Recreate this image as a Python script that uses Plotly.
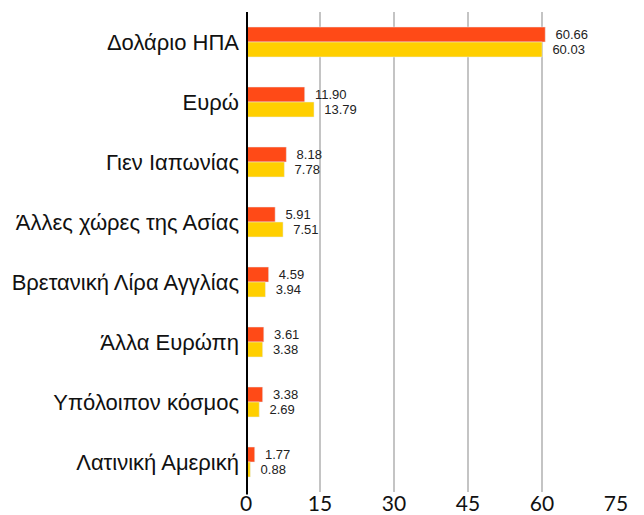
import plotly.graph_objects as go

categories = ["Δολάριο ΗΠΑ", "Ευρώ", "Γιεν Ιαπωνίας", "Άλλες χώρες της Ασίας",
              "Βρετανική Λίρα Αγγλίας", "Άλλα Ευρώπη", "Υπόλοιπον κόσμος", "Λατινική Αμερική"]
series_a = [60.66, 11.90, 8.18, 5.91, 4.59, 3.61, 3.38, 1.77]
series_b = [60.03, 13.79, 7.78, 7.51, 3.94, 3.38, 2.69, 0.88]
tick_vals = [0, 15, 30, 45, 60, 75]

lab_font = dict(size=13, color="#222", family="Liberation Sans")

fig = go.Figure()
fig.add_trace(go.Bar(y=categories, x=series_a, orientation="h", marker_color="#FF4A17",
                     texttemplate="  %{x:.2f}", textposition="outside", constraintext="none",
                     textfont=lab_font, cliponaxis=False, showlegend=False))
fig.add_trace(go.Bar(y=categories, x=series_b, orientation="h", marker_color="#FFCF00",
                     texttemplate="  %{x:.2f}", textposition="outside", constraintext="none",
                     textfont=lab_font, cliponaxis=False, showlegend=False))

fig.update_layout(
    width=636, height=507,
    margin=dict(l=238, r=28, t=4, b=23),
    plot_bgcolor="white", paper_bgcolor="white",
    barmode="group", bargap=0.5, bargroupgap=0,
    xaxis=dict(range=[0, 75], tickvals=tick_vals, showgrid=True, gridcolor="#c4c4c4", gridwidth=2,
               zeroline=False, showline=False, ticks="",
               tickfont=dict(size=21, family="Lato", color="#111"),
               ticklabelstandoff=-3, automargin=False),
    yaxis=dict(autorange="reversed", showgrid=False, ticks="", showline=False,
               tickfont=dict(size=22, family="Liberation Sans", color="#111"),
               ticklabelstandoff=6, automargin=False),
    shapes=[dict(type="line", xref="x", yref="paper", x0=0, x1=0, y0=-0.005, y1=1.0,
                 line=dict(color="black", width=4))],
)
fig.write_html("out.html")
